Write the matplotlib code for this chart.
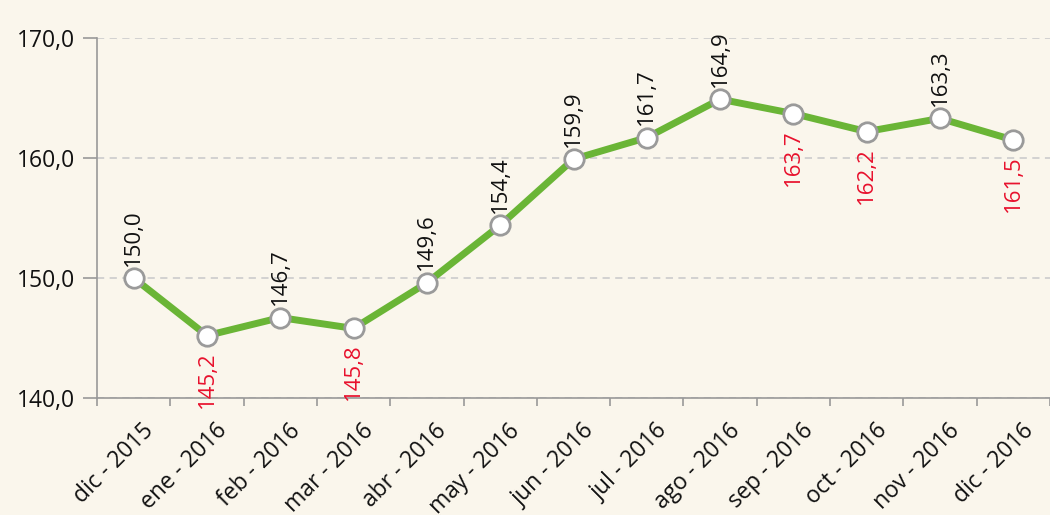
import matplotlib
matplotlib.use("Agg")
import matplotlib.pyplot as plt
import matplotlib.transforms as mtransforms
import numpy as np

categories = ["dic - 2015", "ene - 2016", "feb - 2016", "mar - 2016", "abr - 2016",
              "may - 2016", "jun - 2016", "jul - 2016", "ago - 2016", "sep - 2016",
              "oct - 2016", "nov - 2016", "dic - 2016"]
values = [150.0, 145.2, 146.7, 145.8, 149.6, 154.4, 159.9, 161.7, 164.9, 163.7, 162.2, 163.3, 161.5]
yticks = [140.0, 150.0, 160.0, 170.0]

bg = "#FAF6EC"
plt.rcParams['font.family'] = ['Open Sans', 'DejaVu Sans']

fig = plt.figure(figsize=(10.5, 5.15), dpi=100, facecolor=bg)
ax = fig.add_axes([97/1050, (515-398)/515, (1050-97)/1050, 360/515])
ax.set_facecolor(bg)

x = np.arange(len(values))
ax.plot(x, values, color="#6AB536", lw=5, zorder=3, solid_capstyle='round')
ax.plot(x, values, 'o', ms=14, mfc='white', mec='#9A9A9A', mew=2, zorder=4)

ax.set_ylim(140, 170)
ax.set_xlim(-0.5, -0.5 + (1050-97)/74)
ax.set_yticks(yticks)
ax.set_yticklabels([f"{v:.1f}".replace('.', ',') for v in yticks], fontsize=16.5, color='#111111')
ax.grid(axis='y', color='#CFCFCF', ls=(0, (4, 3)), lw=1.3, zorder=0)

ax.set_xticks(x)
ax.set_xticklabels(categories, rotation=45, ha='right', rotation_mode='anchor', fontsize=16.5, color='#111111')
ax.tick_params(axis='x', which='major', length=0, pad=15)
ax.set_xticks(np.arange(-0.5, 13, 1), minor=True)
ax.tick_params(axis='x', which='minor', length=6, color='#999999', width=1.2)
ax.tick_params(axis='y', length=10, color='#999999', width=1.2, pad=6)
offset = mtransforms.ScaledTranslation(8/100, 0, fig.dpi_scale_trans)
for lab in ax.get_xticklabels():
    lab.set_transform(lab.get_transform() + offset)

for s in ['top', 'right']:
    ax.spines[s].set_visible(False)
for s in ['left', 'bottom']:
    ax.spines[s].set_color('#999999')
    ax.spines[s].set_linewidth(1.2)

for i, v in enumerate(values):
    lab = f"{v:.1f}".replace('.', ',')
    if i > 0 and v < values[i-1]:
        ax.annotate(lab, (i, v), xytext=(0, -11), textcoords='offset points',
                    rotation=90, ha='center', va='top', fontsize=16, color='#E8112D', zorder=5)
    else:
        ax.annotate(lab, (i, v), xytext=(0, 9), textcoords='offset points',
                    rotation=90, ha='center', va='bottom', fontsize=16, color='#111111', zorder=5)

fig.savefig("out.png", dpi=100, facecolor=bg)
